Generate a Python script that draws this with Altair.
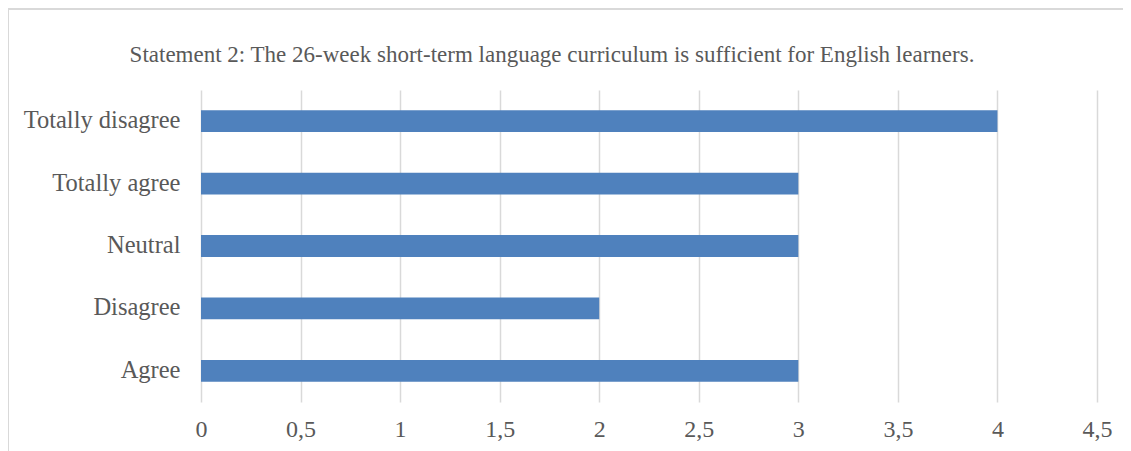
import altair as alt
import pandas as pd

categories = ["Totally disagree", "Totally agree", "Neutral", "Disagree", "Agree"]
values = [4, 3, 3, 2, 3]
x_ticks = [0, 0.5, 1, 1.5, 2, 2.5, 3, 3.5, 4, 4.5]
title_text = "Statement 2: The 26-week short-term language curriculum is sufficient for English learners."

df = pd.DataFrame({"category": categories, "value": values})
title_df = pd.DataFrame({"t": [title_text]})

FONT = "Liberation Serif"
TXT = "#595959"
GRID = "#d9d9d9"

bars = alt.Chart(df).mark_bar(color="#4f81bd").encode(
    x=alt.X("value:Q",
            scale=alt.Scale(domain=[0, 4.5], nice=False),
            axis=alt.Axis(values=x_ticks, title=None, grid=True, gridColor=GRID,
                          gridWidth=1.5, domain=False, ticks=False, labelFlush=False,
                          labelExpr="replace(toString(datum.value), '.', ',')",
                          labelPadding=15, labelFontSize=24, labelColor=TXT,
                          labelFont=FONT)),
    y=alt.Y("category:N", sort=categories,
            scale=alt.Scale(paddingInner=0.65, paddingOuter=0.325),
            axis=alt.Axis(title=None, domain=False, ticks=False, labelPadding=21,
                          labelFontSize=24.5, labelColor=TXT, labelFont=FONT)),
)

title_mark = alt.Chart(title_df).mark_text(
    font=FONT, fontSize=23, color=TXT, align="center", baseline="middle"
).encode(text="t:N", x=alt.value(351), y=alt.value(-35))

border_h = alt.Chart(df).mark_rule(color=GRID, strokeWidth=2).encode(
    x=alt.value(-193), x2=alt.value(960), y=alt.value(-81)
)
border_v = alt.Chart(df).mark_rule(color=GRID, strokeWidth=2).encode(
    x=alt.value(-193), y=alt.value(-81), y2=alt.value(400)
)

chart = alt.layer(border_h, border_v, bars, title_mark).properties(
    width=896,
    height=312,
    autosize=alt.AutoSizeParams(type="none"),
    padding={"left": 193, "top": 82, "right": 26, "bottom": 49},
).configure_view(stroke=None)

chart.save("out.html", embed_options={"renderer": "svg", "actions": False})
